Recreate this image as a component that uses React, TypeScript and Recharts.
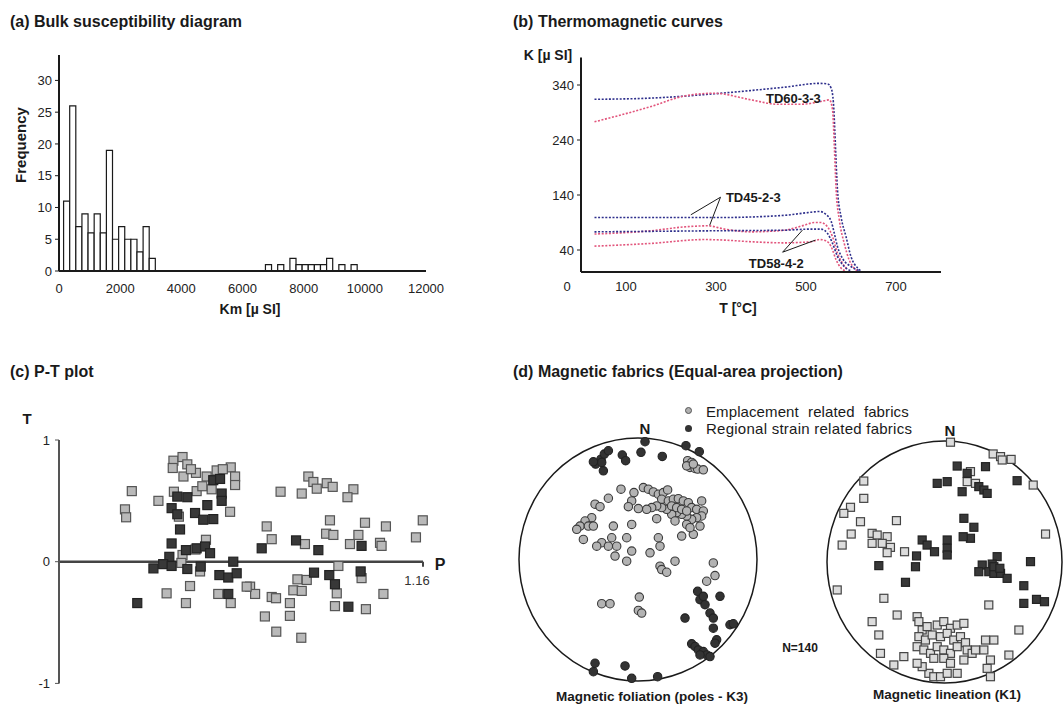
import React from "react";
import {
  BarChart,
  Bar,
  LineChart,
  Line,
  ScatterChart,
  Scatter,
  XAxis,
  YAxis,
  ReferenceLine,
  ReferenceArea,
  ReferenceDot,
} from "recharts";

const FONT = '"Liberation Sans", Arial, Helvetica, sans-serif';
const INK = "#1a1a1a";

// (a) histogram of bulk susceptibility, bins 200 µSI wide
const kmBinCentres = [
  250, 450, 650, 850, 1050, 1250, 1450, 1650, 1850, 2050, 2250, 2450, 2650,
  2850, 3050, 6850, 7250, 7650, 7850, 8050, 8250, 8450, 8650, 8850, 9250, 9650,
];
const kmCounts = [
  11, 26, 7, 9, 6, 9, 6, 19, 5, 7, 5, 5, 3, 7, 2, 1, 1, 2, 1, 1, 1, 1, 1, 2, 1,
  1,
];
const kmTicks = [0, 2000, 4000, 6000, 8000, 10000, 12000];
const freqTicks = [0, 5, 10, 15, 20, 25, 30];

// (b) thermomagnetic curves, [T °C, K µSI]
const td60Heating = [
  [30, 314], [150, 316], [296, 324], [378, 330], [452, 336], [530, 343],
  [548, 342], [556, 334], [561, 307], [564, 258], [567, 198], [570, 149],
  [578, 100], [589, 64], [600, 28], [615, 7], [622, 2],
];
const td60Cooling = [
  [30, 273], [156, 301], [230, 320], [296, 325], [378, 313], [437, 305],
  [489, 305], [533, 310], [552, 313], [559, 295], [563, 228], [567, 149],
  [574, 95], [585, 52], [596, 22], [607, 7], [615, 2],
];
const td45Heating = [
  [30, 99], [304, 99], [452, 103], [504, 108], [530, 110], [544, 105],
  [556, 92], [563, 70], [570, 46], [581, 25], [600, 10], [619, 2],
];
const td45Cooling = [
  [30, 69], [156, 75], [230, 82], [281, 84], [319, 78], [378, 73], [452, 76],
  [496, 85], [519, 90], [533, 90], [548, 82], [559, 64], [570, 34], [581, 16],
  [593, 4],
];
const td58Heating = [
  [30, 73], [304, 75], [452, 76], [511, 78], [533, 78], [548, 70], [559, 52],
  [570, 28], [585, 10], [600, 2],
];
const td58Cooling = [
  [30, 47], [156, 52], [274, 59], [319, 58], [378, 55], [452, 53], [511, 55],
  [530, 59], [544, 57], [556, 46], [567, 22], [578, 7], [589, 2],
];
const tempTicks = [0, 100, 300, 500, 700];
const kTicks = [40, 140, 240, 340];

// (c) P-T plot
const emplP = [
  1.032, 1.029, 1.0295, 1.0437, 1.0503, 1.05, 1.0543, 1.0564, 1.0547, 1.0602,
  1.0649, 1.0693, 1.0755, 1.0774, 1.0774, 1.0505, 1.0605, 1.0671, 1.0752,
  1.0527, 1.0646, 1.0576, 1.0473, 1.0558, 1.07, 1.0755, 1.0543, 1.062, 1.0974,
  1.1067, 1.1096, 1.1118, 1.1133, 1.1177, 1.1203, 1.1294, 1.1268, 1.0913,
  1.0935, 1.1081, 1.1191, 1.1174, 1.1206, 1.1345, 1.1316, 1.1279, 1.1437,
  1.1411, 1.1418, 1.1569, 1.1599, 1.1228, 1.133, 1.1048, 1.1089, 1.103, 1.1067,
  1.084, 1.0862, 1.0935, 1.0954, 1.1015, 1.1221, 1.1213, 1.1349, 1.1426,
  1.0905, 1.1015, 1.0955, 1.1065, 1.0825, 1.058, 1.063, 1.072, 1.0538, 1.06,
];
const emplT = [
  0.58, 0.43, 0.365, 0.5, 0.83, 0.77, 0.86, 0.8, 0.7, 0.73, 0.7, 0.75, 0.775,
  0.7, 0.63, 0.575, 0.58, 0.595, 0.41, 0.37, 0.18, -0.2, -0.26, -0.34, -0.265,
  -0.34, 0.055, -0.08, 0.575, 0.56, 0.7, 0.655, 0.6, 0.645, 0.615, 0.595, 0.53,
  0.29, 0.185, 0.145, 0.34, 0.23, 0.22, 0.32, 0.22, 0.145, 0.29, 0.155, 0.13,
  0.2, 0.34, -0.035, -0.135, -0.145, -0.15, -0.235, -0.24, -0.205, -0.265,
  -0.29, -0.3, -0.34, -0.26, -0.365, -0.39, -0.265, -0.45, -0.445, -0.575,
  -0.625, -0.205, 0.76, 0.62, 0.76, -0.01, 0.1,
];
const regP = [
  1.052, 1.0564, 1.0495, 1.052, 1.0598, 1.0634, 1.0678, 1.0652, 1.0715,
  1.0715, 1.0678, 1.0708, 1.0532, 1.0495, 1.0558, 1.0605, 1.0642, 1.0664,
  1.0485, 1.0458, 1.0495, 1.0415, 1.0564, 1.0623, 1.0766, 1.0705, 1.0744,
  1.0781, 1.0744, 1.0344, 1.0891, 1.1042, 1.114, 1.133, 1.1121, 1.1188, 1.1213,
  1.1326, 1.1272,
];
const regT = [
  0.535, 0.53, 0.44, 0.39, 0.4, 0.345, 0.35, 0.465, 0.56, 0.5, 0.67, 0.68,
  0.265, 0.15, 0.095, 0.11, 0.125, 0.07, 0.04, -0.02, -0.035, -0.055, -0.06,
  -0.04, 0.0, -0.11, -0.13, -0.095, -0.265, -0.34, 0.11, 0.175, 0.095, 0.13,
  -0.09, -0.11, -0.185, -0.08, -0.37,
];

// (d) equal-area projections, unit-circle coordinates (x east, y north)
const k3EmplX = [
  0.417, 0.451, 0.437, 0.479, 0.409, 0.501, 0.549, 0.465, -0.143, -0.034,
  0.045, 0.087, 0.129, 0.171, 0.213, 0.249, 0.199, 0.255, 0.297, 0.339, 0.381,
  0.423, 0.451, 0.493, 0.535, 0.549, 0.535, 0.493, 0.451, 0.409, 0.367, 0.325,
  0.283, 0.241, 0.199, 0.157, 0.115, 0.073, 0.003, -0.053, -0.081, 0.283,
  0.325, 0.367, 0.409, 0.311, 0.409, 0.465, 0.367, 0.437, 0.521, 0.157,
  -0.053, -0.207, -0.249, -0.361, -0.319, -0.389, -0.445, -0.487, -0.515,
  -0.417, -0.375, -0.459, -0.221, -0.305, -0.347, -0.249, -0.179, -0.095,
  -0.053, -0.193, -0.095, 0.101, 0.171, 0.185, 0.311, 0.185, 0.199, 0.241,
  0.633, 0.647, 0.577, -0.305, -0.235, 0.011, 0.003, 0.031,
];
const k3EmplY = [
  0.813, 0.799, 0.758, 0.749, 0.771, 0.744, 0.738, 0.785, 0.579, 0.551, 0.592,
  0.579, 0.556, 0.537, 0.551, 0.573, 0.496, 0.482, 0.496, 0.501, 0.482, 0.468,
  0.427, 0.413, 0.482, 0.399, 0.358, 0.344, 0.331, 0.358, 0.372, 0.386, 0.372,
  0.413, 0.427, 0.441, 0.427, 0.413, 0.419, 0.482, 0.435, 0.441, 0.427, 0.413,
  0.399, 0.317, 0.289, 0.207, 0.193, 0.262, 0.275, 0.336, 0.289, 0.275, 0.504,
  0.455, 0.435, 0.344, 0.317, 0.275, 0.248, 0.275, 0.275, 0.165, 0.179, 0.138,
  0.11, 0.11, 0.11, 0.179, 0.069, 0.028, -0.014, 0.055, 0.179, 0.11, -0.014,
  -0.055, -0.083, -0.105, -0.028, -0.132, -0.179, -0.364, -0.364, -0.309,
  -0.419, -0.441,
];
const k3RegX = [
  -0.356, -0.311, -0.283, -0.249, -0.305, -0.291, -0.375, -0.132, -0.104,
  0.025, 0.059, 0.204, 0.403, 0.515, 0.501, 0.521, 0.563, 0.549, 0.689, 0.605,
  0.633, 0.633, 0.395, 0.661, 0.647, 0.773, 0.801, 0.451, 0.479, 0.507, 0.549,
  0.577, 0.605, 0.521, -0.361, -0.375, -0.109, -0.053, 0.165,
];
const k3RegY = [
  0.785, 0.826, 0.868, 0.895, 0.799, 0.73, 0.804, 0.86, 0.813, 0.882, 0.97,
  0.848, 0.937, 0.887, -0.262, -0.331, -0.372, -0.303, -0.303, -0.441, -0.482,
  -0.565, -0.482, -0.661, -0.689, -0.537, -0.529, -0.694, -0.716, -0.744,
  -0.758, -0.785, -0.799, -0.785, -0.854, -0.923, -0.876, -0.978, -0.964,
];
const k1EmplX = [
  0.051, 0.414, 0.477, 0.567, 0.491, 0.755, -0.687, -0.687, -0.8, -0.857,
  -0.871, -0.794, -0.715, -0.409, -0.616, -0.573, -0.488, -0.53, -0.46, -0.488,
  -0.616, -0.34, 0.221, 0.193, 0.264, 0.86, -0.913, -0.516, -0.616, -0.559,
  -0.403, -0.233, 0.377, 0.633, -0.545, -0.431, -0.346, -0.218, -0.19, -0.148,
  -0.062, -0.006, 0.051, 0.108, 0.165, -0.218, -0.162, -0.105, -0.034, 0.023,
  0.079, 0.136, 0.179, -0.233, -0.176, -0.119, -0.062, -0.006, 0.051, 0.108,
  0.193, 0.235, 0.264, 0.349, 0.42, 0.335, 0.391, 0.548, -0.091, -0.006,
  0.051, 0.165, 0.363, 0.391, -0.133, -0.091, -0.034, 0.023, 0.108, -0.19,
  -0.233,
];
const k1EmplY = [
  0.99, 0.893, 0.871, 0.848, 0.843, 0.636, 0.669, 0.526, 0.452, 0.402, 0.14,
  0.231, 0.333, 0.342, 0.237, 0.223, 0.209, 0.154, 0.121, 0.077, 0.154, 0.085,
  0.747, 0.664, 0.65, 0.231, -0.231, -0.3, -0.493, -0.603, -0.438, -0.452,
  -0.355, -0.562, -0.755, -0.851, -0.782, -0.493, -0.562, -0.534, -0.521,
  -0.493, -0.548, -0.521, -0.507, -0.617, -0.645, -0.603, -0.617, -0.59,
  -0.645, -0.617, -0.667, -0.7, -0.727, -0.755, -0.7, -0.727, -0.755, -0.7,
  -0.727, -0.755, -0.727, -0.645, -0.645, -0.727, -0.81, -0.769, -0.796,
  -0.796, -0.837, -0.81, -0.879, -0.948, -0.92, -0.948, -0.948, -0.92, -0.92,
  -0.865, -0.837,
];
const k1RegX = [
  0.108, 0.349, 0.193, 0.023, -0.062, 0.15, 0.292, 0.335, 0.363, 0.618, 0.165,
  0.25, 0.221, 0.159, 0.023, 0.023, 0.023, -0.19, -0.148, -0.085, -0.238,
  -0.247, -0.559, -0.332, 0.448, 0.321, 0.406, 0.292, 0.377, 0.42, 0.477,
  0.533, 0.732, 0.675, 0.675, 0.783, 0.851, 0.42, 0.471,
];
const k1RegY = [
  0.793, 0.788, 0.733, 0.664, 0.65, 0.581, 0.623, 0.595, 0.567, 0.672, 0.361,
  0.287, 0.196, 0.209, 0.182, 0.113, 0.058, 0.182, 0.14, 0.085, 0.05, -0.039,
  -0.03, -0.168, 0.044, -0.025, -0.017, -0.08, -0.08, -0.094, -0.094, -0.135,
  0.003, -0.196, -0.342, -0.309, -0.328, -0.039, -0.052,
];

const toCurve = (pts: number[][]) => pts.map(([t, k]) => ({ t, k }));
const toXY = (xs: number[], ys: number[]) => xs.map((x, i) => ({ x, y: ys[i] }));

const square =
  (size: number, fill: string, stroke: string) => (props: any) => {
    const { cx, cy } = props;
    if (cx == null || cy == null) return <g />;
    return (
      <rect
        x={cx - size / 2}
        y={cy - size / 2}
        width={size}
        height={size}
        fill={fill}
        stroke={stroke}
        strokeWidth={1.2}
      />
    );
  };

const dot = (r: number, fill: string, stroke: string) => (props: any) => {
  const { cx, cy } = props;
  if (cx == null || cy == null) return <g />;
  return <circle cx={cx} cy={cy} r={r} fill={fill} stroke={stroke} strokeWidth={1.1} />;
};

// inscribed circle of the [-1,1] box = primitive of the stereonet
const netCircle = (props: any) => (
  <ellipse
    cx={props.x + props.width / 2}
    cy={props.y + props.height / 2}
    rx={props.width / 2}
    ry={props.height / 2}
    fill="none"
    stroke={INK}
    strokeWidth={1.5}
  />
);

const Txt = ({
  x,
  y,
  children,
  size = 13,
  bold = false,
  anchor = "center",
  style = {},
}: any) => (
  <div
    style={{
      position: "absolute",
      left: x,
      top: y,
      transform:
        anchor === "center"
          ? "translate(-50%, -50%)"
          : anchor === "left"
          ? "translate(0, -50%)"
          : "translate(-100%, -50%)",
      fontSize: size,
      fontWeight: bold ? 700 : 400,
      color: INK,
      whiteSpace: "nowrap",
      lineHeight: 1,
      ...style,
    }}
  >
    {children}
  </div>
);

const tickStyle = { fontSize: 13, fill: "#222", fontFamily: FONT };
const HEAT = "#2e2f8c";
const COOL = "#e2557c";

// "0" sits at the lower-left corner of the origin, the others under their tick
const TempTick = (props: any) => {
  const { x, y, payload } = props;
  const zero = payload.value === 0;
  return (
    <text
      x={zero ? x - 14 : x}
      y={y + 12}
      textAnchor="middle"
      dominantBaseline="central"
      {...tickStyle}
    >
      {payload.value}
    </text>
  );
};

const curveLabel = (text: string) => (props: any) => (
  <text
    x={props.cx}
    y={props.cy}
    textAnchor="middle"
    dominantBaseline="central"
    fontSize={13}
    fontWeight={700}
    fill={INK}
    fontFamily={FONT}
  >
    {text}
  </text>
);

export default function App() {
  const histData = kmBinCentres.map((km, i) => ({ km, n: kmCounts[i] }));
  const emplPT = emplP.map((p, i) => ({ p, t: emplT[i] }));
  const regPT = regP.map((p, i) => ({ p, t: regT[i] }));

  const curves = [
    { data: toCurve(td60Heating), color: HEAT },
    { data: toCurve(td60Cooling), color: COOL },
    { data: toCurve(td45Heating), color: HEAT },
    { data: toCurve(td45Cooling), color: COOL },
    { data: toCurve(td58Heating), color: HEAT },
    { data: toCurve(td58Cooling), color: COOL },
  ];

  const axisLine = { stroke: INK, strokeWidth: 2 };

  return (
    <div
      style={{
        position: "absolute",
        left: 0,
        top: 0,
        width: 1064,
        height: 711,
        background: "#fff",
        fontFamily: FONT,
        overflow: "hidden",
      }}
    >
      {/* titles */}
      <Txt x={10} y={22} size={16} bold anchor="left">
        (a) Bulk susceptibility diagram
      </Txt>
      <Txt x={513} y={22} size={16} bold anchor="left">
        (b) Thermomagnetic curves
      </Txt>
      <Txt x={10} y={372} size={16} bold anchor="left">
        (c) P-T plot
      </Txt>
      <Txt x={513} y={372} size={16} bold anchor="left">
        (d) Magnetic fabrics (Equal-area projection)
      </Txt>

      {/* (a) */}
      <div style={{ position: "absolute", left: 0, top: 0 }}>
        <BarChart
          width={460}
          height={320}
          data={histData}
          margin={{ top: 55, right: 34, left: 10, bottom: 19 }}
        >
          <XAxis
            dataKey="km"
            type="number"
            domain={[0, 12000]}
            ticks={kmTicks}
            interval={0}
            axisLine={axisLine}
            tickLine={false}
            tickSize={0}
            tickMargin={13}
            tick={tickStyle}
            height={30}
          />
          <YAxis
            type="number"
            domain={[0, 34]}
            ticks={freqTicks}
            interval={0}
            width={49}
            axisLine={axisLine}
            tickLine={{ stroke: INK }}
            tickSize={4}
            tickMargin={3}
            tick={tickStyle}
          />
          <Bar
            dataKey="n"
            fill="#fff"
            stroke={INK}
            strokeWidth={1.2}
            barSize={6.1}
            isAnimationActive={false}
          />
        </BarChart>
      </div>
      <Txt x={20} y={145} size={15} bold style={{ transform: "translate(-50%, -50%) rotate(-90deg)" }}>
        Frequency
      </Txt>
      <Txt x={250} y={309} size={14} bold>
        Km [µ SI]
      </Txt>

      {/* (b) */}
      <div style={{ position: "absolute", left: 520, top: 0 }}>
        <LineChart
          width={440}
          height={320}
          margin={{ top: 57.5, right: 19, left: 11, bottom: 18 }}
        >
          <XAxis
            dataKey="t"
            type="number"
            domain={[0, 800]}
            ticks={tempTicks}
            interval={0}
            axisLine={axisLine}
            tickLine={false}
            tickSize={0}
            tick={<TempTick />}
            height={30}
            allowDuplicatedCategory={false}
          />
          <YAxis
            dataKey="k"
            type="number"
            domain={[0, 390]}
            ticks={kTicks}
            interval={0}
            width={50}
            axisLine={axisLine}
            tickLine={{ stroke: INK }}
            tickSize={4}
            tickMargin={3}
            tick={tickStyle}
          />
          {curves.map((c, i) => (
            <Line
              key={i}
              data={c.data}
              dataKey="k"
              type="monotone"
              stroke={c.color}
              strokeWidth={1.6}
              strokeDasharray="2 1.6"
              dot={false}
              activeDot={false}
              isAnimationActive={false}
            />
          ))}
          <ReferenceLine segment={[{ x: 310, y: 136 }, { x: 244, y: 104 }]} stroke={INK} strokeWidth={1} />
          <ReferenceLine segment={[{ x: 310, y: 136 }, { x: 286, y: 85 }]} stroke={INK} strokeWidth={1} />
          <ReferenceLine segment={[{ x: 448, y: 36 }, { x: 492, y: 76 }]} stroke={INK} strokeWidth={1} />
          <ReferenceLine segment={[{ x: 448, y: 36 }, { x: 521, y: 58 }]} stroke={INK} strokeWidth={1} />
          <ReferenceDot x={472} y={316} r={0} shape={curveLabel("TD60-3-3")} />
          <ReferenceDot x={383} y={136} r={0} shape={curveLabel("TD45-2-3")} />
          <ReferenceDot x={434} y={16} r={0} shape={curveLabel("TD58-4-2")} />
        </LineChart>
      </div>
      <Txt x={548} y={55} size={14} bold>
        K [µ SI]
      </Txt>
      <Txt x={738} y={308} size={14} bold>
        T [°C]
      </Txt>

      {/* (c) */}
      <div style={{ position: "absolute", left: 0, top: 370 }}>
        <ScatterChart
          width={500}
          height={330}
          margin={{ top: 70, right: 77, left: 10, bottom: 16.6 }}
        >
          <XAxis dataKey="p" type="number" domain={[1, 1.16]} hide />
          <YAxis
            dataKey="t"
            type="number"
            domain={[-1, 1]}
            ticks={[-1, 0, 1]}
            interval={0}
            width={49}
            axisLine={{ stroke: "#555", strokeWidth: 2 }}
            tickLine={{ stroke: "#555" }}
            tickSize={4}
            tickMargin={5}
            tick={tickStyle}
          />
          <ReferenceLine y={0} stroke="#444" strokeWidth={2.5} />
          <ReferenceDot x={1.16} y={0} r={0} shape={(p: any) => (
            <g>
              <line x1={p.cx} y1={p.cy} x2={p.cx} y2={p.cy + 5} stroke="#444" strokeWidth={2} />
              <text x={p.cx + 17} y={p.cy + 3} textAnchor="middle" dominantBaseline="central" fontSize={16} fontWeight={700} fill={INK} fontFamily={FONT}>P</text>
              <text x={p.cx - 6} y={p.cy + 19} textAnchor="middle" dominantBaseline="central" fontSize={13} fill="#333" fontFamily={FONT}>1.16</text>
            </g>
          )} />
          <Scatter data={emplPT} shape={square(9, "#b9b9b9", "#555")} isAnimationActive={false} />
          <Scatter data={regPT} shape={square(9, "#383838", "#222")} isAnimationActive={false} />
        </ScatterChart>
      </div>
      <Txt x={27} y={418} size={15} bold>
        T
      </Txt>

      {/* (d) legend */}
      <div style={{ position: "absolute", left: 685, top: 407, width: 7, height: 7, borderRadius: "50%", background: "#b0b0b0", border: "1px solid #555", boxSizing: "border-box" }} />
      <div style={{ position: "absolute", left: 685, top: 425, width: 7, height: 7, borderRadius: "50%", background: "#333" }} />
      <Txt x={706} y={411} size={15} anchor="left" style={{ wordSpacing: 5, letterSpacing: 0.1 }}>
        Emplacement related fabrics
      </Txt>
      <Txt x={706} y={428} size={15} anchor="left" style={{ letterSpacing: 0.25 }}>
        Regional strain related fabrics
      </Txt>

      {/* (d) left net: poles to foliation */}
      <div style={{ position: "absolute", left: 505, top: 420 }}>
        <ScatterChart
          width={270}
          height={280}
          margin={{ top: 18, right: 18, left: 14, bottom: 19 }}
        >
          <XAxis dataKey="x" type="number" domain={[-1, 1]} hide />
          <YAxis dataKey="y" type="number" domain={[-1, 1]} hide />
          <ReferenceArea x1={-1} x2={1} y1={-1} y2={1} shape={netCircle} />
          <Scatter data={toXY(k3EmplX, k3EmplY)} shape={dot(4.2, "#b3b3b3", "#3a3a3a")} isAnimationActive={false} />
          <Scatter data={toXY(k3RegX, k3RegY)} shape={dot(4.2, "#333", "#222")} isAnimationActive={false} />
        </ScatterChart>
      </div>

      {/* (d) right net: lineation */}
      <div style={{ position: "absolute", left: 800, top: 420 }}>
        <ScatterChart
          width={264}
          height={280}
          margin={{ top: 21, right: 2, left: 27, bottom: 17 }}
        >
          <XAxis dataKey="x" type="number" domain={[-1, 1]} hide />
          <YAxis dataKey="y" type="number" domain={[-1, 1]} hide />
          <ReferenceArea x1={-1} x2={1} y1={-1} y2={1} shape={netCircle} />
          <Scatter data={toXY(k1EmplX, k1EmplY)} shape={square(8, "#dcdcdc", "#444")} isAnimationActive={false} />
          <Scatter data={toXY(k1RegX, k1RegY)} shape={square(8, "#383838", "#222")} isAnimationActive={false} />
        </ScatterChart>
      </div>

      <Txt x={645} y={428} size={15} bold>
        N
      </Txt>
      <Txt x={950} y={430} size={15} bold>
        N
      </Txt>
      <Txt x={800} y={648} size={12} bold>
        N=140
      </Txt>
      <Txt x={652} y={697} size={13.5} bold>
        Magnetic foliation (poles - K3)
      </Txt>
      <Txt x={947} y={695} size={13.5} bold>
        Magnetic lineation (K1)
      </Txt>
    </div>
  );
}
